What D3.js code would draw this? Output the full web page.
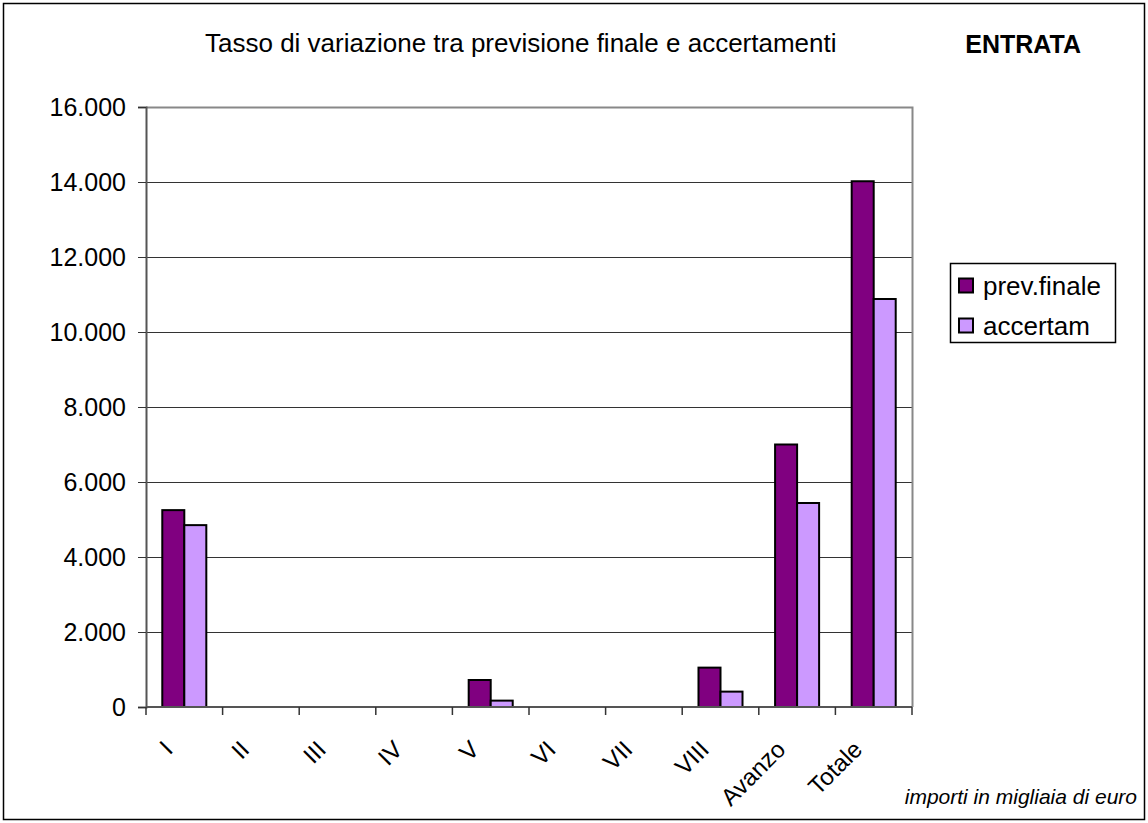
<!DOCTYPE html>
<html lang="it">
<head>
<meta charset="UTF-8">
<title>Tasso di variazione tra previsione finale e accertamenti</title>
<script src="https://d3js.org/d3.v7.min.js"></script>
<style>
  body { margin: 0; background: #fff; }
  svg text { font-family: "Liberation Sans", Arial, sans-serif; fill: #000; }
</style>
</head>
<body>
<div id="chart"></div>
<script>
// dati (migliaia di euro)
const categories = ["I", "II", "III", "IV", "V", "VI", "VII", "VIII", "Avanzo", "Totale"];
const series = ["prev.finale", "accertam"];
const prevFinale = [5250, 0, 0, 0, 720, 0, 0, 1050, 7000, 14020];
const accertam = [4850, 0, 0, 0, 170, 0, 0, 410, 5440, 10880];
const yTicks = [0, 2000, 4000, 6000, 8000, 10000, 12000, 14000, 16000];
const colors = ["#800080", "#cc99ff"];

const w = 1148, h = 823;
const pLeft = 146, pRight = 912, pTop = 107, pBottom = 707;

const svg = d3.select("#chart").append("svg")
    .attr("width", w)
    .attr("height", h);

// cornice esterna
svg.append("rect")
    .attr("x", 3.5).attr("y", 3.5)
    .attr("width", w - 7).attr("height", h - 7)
    .attr("fill", "#fff")
    .attr("stroke", "#000")
    .attr("stroke-width", 1.5);

const it = d3.formatLocale({decimal: ",", thousands: ".", grouping: [3], currency: ["€", ""]});
const fmt = it.format(",d");

const x = d3.scaleBand().domain(categories).range([pLeft, pRight]).padding(0);
const xs = d3.scaleBand().domain(series).range([0, x.bandwidth()])
    .paddingInner(0).paddingOuter(0.74);
const y = d3.scaleLinear().domain([0, 16000]).range([pBottom, pTop]);

// griglia
svg.append("g")
   .selectAll("line")
   .data(yTicks.slice(1, -1))
   .enter().append("line")
   .attr("x1", pLeft).attr("x2", pRight)
   .attr("y1", d => y(d) + 0.5).attr("y2", d => y(d) + 0.5)
   .attr("stroke", "#333")
   .attr("stroke-width", 1);

// bordo area del grafico (sopra e destra grigio)
svg.append("path")
   .attr("d", `M${pLeft},${pTop + 0.5}H${pRight + 0.5}V${pBottom}`)
   .attr("fill", "none")
   .attr("stroke", "#888")
   .attr("stroke-width", 2);

// barre
const rows = categories.map((c, i) => ({cat: c, vals: [prevFinale[i], accertam[i]]}));
const groups = svg.append("g").selectAll("g")
   .data(rows)
   .enter().append("g")
   .attr("transform", d => "translate(" + x(d.cat) + ",0)");

groups.selectAll("rect")
   .data(d => d.vals.filter(v => v > 0).length ? d.vals.map((v, j) => ({s: series[j], v: v, j: j})) : [])
   .enter().append("rect")
   .attr("x", d => xs(d.s))
   .attr("y", d => y(d.v))
   .attr("width", xs.bandwidth())
   .attr("height", d => y(0) - y(d.v))
   .attr("fill", d => colors[d.j])
   .attr("stroke", "#000")
   .attr("stroke-width", 2);

// asse y
const yAxis = d3.axisLeft(y).tickValues(yTicks).tickFormat(fmt).tickSize(8).tickPadding(12);
svg.append("g")
   .attr("transform", "translate(" + pLeft + ",0)")
   .call(yAxis)
   .call(g => g.select(".domain").attr("stroke", "#555").attr("stroke-width", 2))
   .call(g => g.selectAll(".tick line").attr("stroke", "#333"))
   .call(g => g.selectAll("text").style("font-size", "25px")
        .style("font-family", "'Liberation Sans', Arial, sans-serif"));

// asse x: linea, tacche ai confini delle categorie
svg.append("line")
   .attr("x1", pLeft).attr("x2", pRight)
   .attr("y1", pBottom).attr("y2", pBottom)
   .attr("stroke", "#555").attr("stroke-width", 2);

svg.append("g").selectAll("line")
   .data(categories.map(c => x(c)).concat([pRight]))
   .enter().append("line")
   .attr("x1", d => d).attr("x2", d => d)
   .attr("y1", pBottom).attr("y2", pBottom + 8)
   .attr("stroke", "#333").attr("stroke-width", 1.5);

svg.append("g").selectAll("text")
   .data(categories)
   .enter().append("text")
   .attr("transform", d => "translate(" + (x(d) + x.bandwidth() / 2 - 16) + "," + (pBottom + 38) + ") rotate(-45)")
   .attr("text-anchor", "end")
   .attr("dy", "0.35em")
   .style("font-size", "24px")
   .text(d => d);

// titolo
svg.append("text")
   .attr("x", 205).attr("y", 52)
   .attr("text-anchor", "start")
   .style("font-size", "26px")
   .text("Tasso di variazione tra previsione finale e accertamenti");

svg.append("text")
   .attr("x", 1081).attr("y", 53)
   .attr("text-anchor", "end")
   .style("font-size", "25px")
   .style("font-weight", "bold")
   .text("ENTRATA");

// legenda
const lg = svg.append("g").attr("transform", "translate(950,263)");
lg.append("rect")
  .attr("x", 0.5).attr("y", 0.5)
  .attr("width", 165).attr("height", 79)
  .attr("fill", "#fff").attr("stroke", "#000").attr("stroke-width", 1.5);

const items = lg.selectAll("g.item")
  .data(series)
  .enter().append("g")
  .attr("class", "item")
  .attr("transform", (d, i) => "translate(0," + (22.5 + i * 40) + ")");

items.append("rect")
  .attr("x", 9).attr("y", -7)
  .attr("width", 14).attr("height", 14)
  .attr("fill", (d, i) => colors[i])
  .attr("stroke", "#000").attr("stroke-width", 2);

items.append("text")
  .attr("x", 33).attr("dy", "0.35em")
  .style("font-size", "26px")
  .text(d => d);

// nota
svg.append("text")
   .attr("x", 1137).attr("y", 804)
   .attr("text-anchor", "end")
   .style("font-size", "21px")
   .style("font-style", "italic")
   .text("importi in migliaia di euro");
</script>
</body>
</html>
